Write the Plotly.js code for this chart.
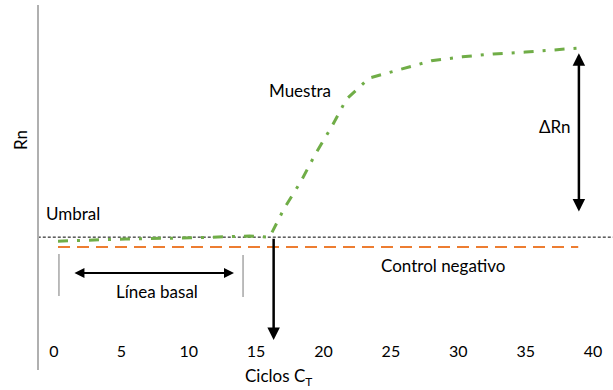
<!DOCTYPE html>
<html>
<head>
<meta charset="utf-8">
<script src="https://cdn.plot.ly/plotly-3.0.1.min.js"></script>
<style>html,body{margin:0;padding:0;background:#fff;}#chart{width:613px;height:390px;}</style>
</head>
<body>
<div id="chart"></div>
<script>
// Sample (Muestra) amplification curve
const sampleCycles = [0.3, 5.3, 10.1, 14.5, 16.0, 17.1, 18.3, 19.4, 20.6, 21.7, 23.4, 28.0, 30.3, 32.6, 35.0, 37.3, 38.9];
const sampleRn     = [35.3, 35.9, 36.2, 36.7, 36.4, 44.4, 51.5, 59.2, 66.6, 74.2, 80.0, 84.7, 85.8, 86.6, 87.1, 87.7, 88.2];
// Negative control
const controlCycles = [0.3, 38.9];
const controlRn     = [33.7, 33.7];
// Threshold (Umbral)
const thresholdCycles = [-1.2, 41.6];
const thresholdRn     = [36.4, 36.4];
// Baseline bracket ticks
const baseTickCycles = [0.37, 0.37, null, 14.03, 14.03];
const baseTickRn     = [31.8, 20.3, null, 31.5, 20.0];
// Arrows: [x0, y0, x1, y1] (tail -> head)
const ctArrow    = [16.3, 36.4, 16.3, 8.2];
const deltaArrow = [38.95, 43.0, 38.95, 86.8];
const baseArrow  = [1.41, 26.6, 13.36, 26.6];
// Axis ticks
const xTicks = [0, 5, 10, 15, 20, 25, 30, 35, 40];
const xTickLabels = ['0', '5', '10', '15', '20', '25', '30', '35', '40'];

const FONT = 'Lato, "Open Sans", sans-serif';

const traces = [
  {x: thresholdCycles, y: thresholdRn, mode: 'lines', line: {color: '#000', width: 1, dash: '3px,2px'}, hoverinfo: 'skip'},
  {x: controlCycles, y: controlRn, mode: 'lines', line: {color: '#ED7D31', width: 2, dash: '12px,7px'}, hoverinfo: 'skip'},
  {x: sampleCycles, y: sampleRn, mode: 'lines', line: {color: '#70AD47', width: 3, dash: '10px,9px,3px,9px'}, hoverinfo: 'skip'},
  {x: baseTickCycles, y: baseTickRn, mode: 'lines', line: {color: '#a6a6a6', width: 1.5}, hoverinfo: 'skip'}
];

function arrow(a, both, w) {
  return {x: a[2], y: a[3], ax: a[0], ay: a[1], xref: 'x', yref: 'y', axref: 'x', ayref: 'y',
    text: '', showarrow: true, arrowhead: 2, arrowsize: 1, arrowwidth: w, arrowcolor: '#000',
    arrowside: both ? 'end+start' : 'end', startarrowhead: 2, startarrowsize: 1};
}
function label(t, x, y) {
  return {x: x, y: y, xref: 'x', yref: 'y', xanchor: 'center', yanchor: 'middle', text: t, showarrow: false,
    font: {family: FONT, size: 17, color: '#000'}};
}

const layout = {
  width: 613, height: 390,
  margin: {l: 39, r: 0, t: 5, b: 20},
  paper_bgcolor: '#fff', plot_bgcolor: '#fff',
  showlegend: false,
  font: {family: FONT, size: 16, color: '#000'},
  xaxis: {range: [-1.11, 41.48], tickvals: xTicks, ticktext: xTickLabels, showgrid: false, zeroline: false,
    showline: false, ticks: '', anchor: 'free', position: 0.082, tickfont: {family: FONT, size: 16, color: '#000'}},
  yaxis: {range: [0, 100], showgrid: false, zeroline: false, showticklabels: false, ticks: '',
    showline: true, linecolor: '#b0b0b0', linewidth: 2},
  annotations: [
    arrow(ctArrow, false, 2.5),
    arrow(deltaArrow, true, 2.5),
    arrow(baseArrow, true, 2),
    label('Umbral', 1.41, 43.0),
    label('Muestra', 18.26, 76.7),
    label('ΔRn', 37.18, 66.6),
    label('Línea basal', 7.64, 21.6),
    label('Control negativo', 28.87, 28.5),
    {x: (278 - 39) / 574, y: -0.02, xref: 'paper', yref: 'paper', xanchor: 'center', yanchor: 'middle',
      text: 'Ciclos C<sub>T</sub>', showarrow: false, font: {family: FONT, size: 17, color: '#000'}},
    {x: (20 - 39) / 574, y: (370 - 140) / 365, xref: 'paper', yref: 'paper', xanchor: 'center', yanchor: 'middle',
      text: 'Rn', textangle: -90, showarrow: false, font: {family: FONT, size: 17, color: '#000'}}
  ]
};

Plotly.newPlot('chart', traces, layout, {displayModeBar: false, staticPlot: true});
</script>
</body>
</html>
